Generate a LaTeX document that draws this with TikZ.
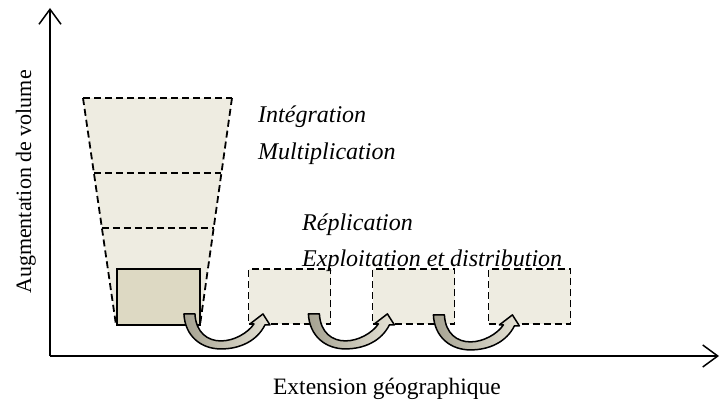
\documentclass[tikz,border=0pt]{standalone}
\usepackage{fontspec}
\setmainfont{Liberation Serif}
\usetikzlibrary{arrows.meta,calc}
\definecolor{fillA}{HTML}{EEECE1}
\definecolor{fillB}{HTML}{DDD9C3}
\definecolor{arrdark}{RGB}{165,162,145}
\definecolor{arrlight}{RGB}{230,227,214}
\tikzset{
  axis/.style={line width=1.7pt, -{Straight Barb[length=15pt,width=22pt,line width=1.5pt]}},
  dashline/.style={line width=1.8pt, dash pattern=on 7pt off 4pt},
  dbox/.style={draw, dashline, fill=fillA, inner sep=0pt, minimum width=82pt, minimum height=55pt},
  solidbox/.style={draw, line width=1.9pt, fill=fillB, inner sep=0pt, minimum width=83pt, minimum height=56pt},
  lbl/.style={font=\fontsize{24}{29}\selectfont\itshape, anchor=base west, inner sep=0pt},
  axlbl/.style={font=\fontsize{23.5}{28}\selectfont, anchor=base, inner sep=0pt},
  bendarrow/.pic={
    \path[draw=black, line width=1.5pt, left color=arrdark, right color=arrlight, line join=round]
      (0,0) -- (11,0) .. controls (12,19) and (24,27) .. (37,27)
      .. controls (50,27) and (64,19) .. (70,10) -- (66,10) -- (79,0) -- (86,11) -- (81,11)
      .. controls (73,27) and (56,35) .. (37,35) .. controls (17,35) and (1,22) .. (0,0) -- cycle;
  }
}
\begin{document}
\begin{tikzpicture}[x=1pt,y=-1pt]
\useasboundingbox (0,0) rectangle (720,401);
% axes
\coordinate (O) at (50,356);
\coordinate (Ytop) at (50,8);
\coordinate (Xend) at (719,356);
\draw[axis] (O) -- (Ytop);
\draw[axis] (O) -- (Xend);
% trapezoid
\coordinate (tl) at (83,98);
\coordinate (tr) at (232,98);
\coordinate (bl) at (116,325);
\coordinate (br) at (200,325);
\fill[fillA] (tl) -- (tr) -- (br) -- (bl) -- cycle;
\draw[dashline] (tl) -- (tr);
\draw[dashline] (tl) -- (bl);
\draw[dashline] (tr) -- (br);
\draw[dashline] ($(tl)!0.33!(bl)$) -- ($(tr)!0.33!(br)$);
\draw[dashline] ($(tl)!0.573!(bl)$) -- ($(tr)!0.573!(br)$);
% boxes
\node[solidbox] (b0) at (158.5,297) {};
\node[dbox] (b1) at (289.5,296.5) {};
\node[dbox] (b2) at (413.5,296.5) {};
\node[dbox] (b3) at (529.5,296.5) {};
% labels
\node[lbl] (t1) at (258,123) {Intégration};
\node[lbl] (t2) at (258,159) {Multiplication};
\node[lbl] (t3) at (302,230) {Réplication};
\node[lbl] (t4) at (302,266) {Exploitation et distribution};
\node[axlbl, font=\fontsize{22}{26}\selectfont] (ylab) at (31,182) [rotate=90] {Augmentation de volume};
\node[axlbl] (xlab) at (387,394) {Extension géographique};
% curved arrows
\pic at ($(b0.south east)+(-17,-12)$) {bendarrow};
\pic at ($(b1.south east)+(-23,-11)$) {bendarrow};
\pic at ($(b2.south east)+(-22,-10)$) {bendarrow};
\end{tikzpicture}
\end{document}
